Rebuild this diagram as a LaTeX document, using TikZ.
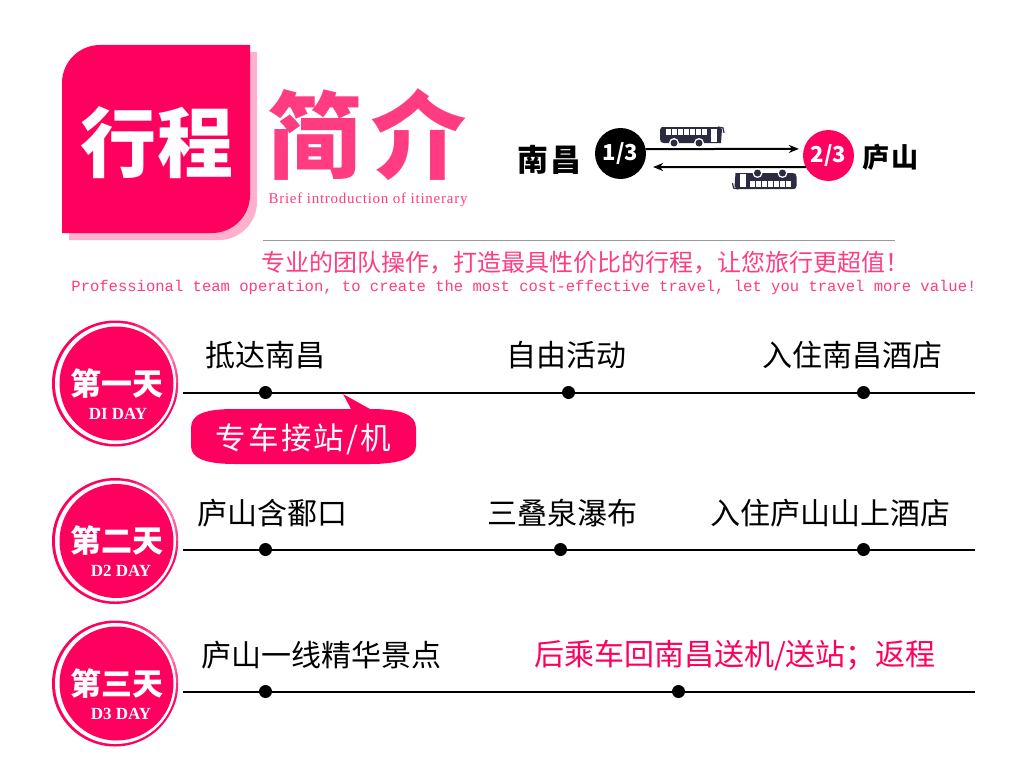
\documentclass[tikz,border=0pt]{standalone}
\usepackage{fontspec}
\usepackage{xcolor}
\usetikzlibrary{arrows.meta,positioning,calc}
\setmainfont{Liberation Serif}
\setmonofont{Liberation Mono}
\newfontfamily\cjk{Noto Sans CJK SC}
\newcommand\fsize[1]{\fontsize{#1}{#1}\selectfont}
\definecolor{hotred}{HTML}{FF005F}
\definecolor{softred}{HTML}{FF3C82}
\definecolor{palered}{HTML}{FFB0CC}
\definecolor{busdark}{HTML}{2B2B42}
\tikzset{
    plain/.style={inner sep=0pt,outer sep=0pt},
    stoplabel/.style={plain,font=\cjk\fsize{30},text=black},
    stopdot/.style={plain,circle,fill=black,minimum size=13pt},
    dayline/.style={line width=2pt,black},
    badgedisc/.style={plain,circle,fill=hotred},
    badgetitle/.style={plain,font=\cjk\bfseries\fsize{31},text=white},
    badgesub/.style={plain,font=\rmfamily\bfseries\fsize{17},text=white},
    busicon/.pic={
        \fill[busdark] (-32,-7) .. controls (-32,-10) and (-30,-10) .. (-28,-10)
            -- (26,-10) -- (30,-8) -- (29,6) -- (-28,6) .. controls (-31,6) and (-32,5) .. (-32,2) -- cycle;
        \foreach \wx in {-26,-20,...,10}
            \fill[white] (\wx,-8) rectangle ++(4.6,6);
        \fill[white] (19,-8) rectangle (25,5);
        \foreach \wx in {-18,7}{
            \fill[white] (\wx,6) circle (5);
            \fill[busdark] (\wx,6) circle (3.5);
        }
        \draw[busdark,line width=1.2pt] (26,-10) -- (31,-9) -- (32,-4);
    },
}
\begin{document}
\begin{tikzpicture}[x=1pt,y=-1pt]
    \useasboundingbox (0,0) rectangle (1024,776);
    % title block
    \fill[palered] (110,52) -- (257,52) -- (257,202) arc (0:90:38) -- (69,240) -- (69,210) -- cycle;
    \fill[hotred] (100,45) -- (250,45) -- (250,195) arc (0:90:38) -- (62,233) -- (62,83) arc (180:270:38) -- cycle;
    \node[plain,font=\cjk\bfseries\fsize{76},text=white] (titlea) at (157,143) {行\kern1pt程};
    \node[plain,font=\cjk\bfseries\fsize{95},text=softred] (titleb) at (367,135) {简\kern9pt介};
    \node[plain,font=\rmfamily\fsize{15},text=softred] (titlesub) at (368,200) {\addfontfeature{LetterSpace=5}Brief introduction of itinerary};
    % route
    \node[plain,circle,fill=black,minimum size=51pt,text=white,font=\cjk\bfseries\fsize{22}] (nanchang) at (620.5,153.5) {1/3};
    \node[plain,circle,fill=hotred,minimum size=51pt,text=white,font=\cjk\bfseries\fsize{22}] (lushan) at (828.5,155.5) {2/3};
    \node[plain,font=\cjk\bfseries\fsize{31},left=13pt of nanchang,yshift=-6pt] (nanchangname) {南\kern3pt昌};
    \node[plain,font=\cjk\bfseries\fsize{27},right=8pt of lushan,yshift=-2pt] (lushanname) {庐\kern2pt山};
    \draw[line width=2pt,-{Stealth[length=10pt,width=8pt]},shorten >=5pt] (nanchang.10) -- (lushan.165);
    \draw[line width=2pt,-{Stealth[length=10pt,width=8pt]},shorten >=11pt] (lushan.207) -- (nanchang.328);
    \pic at (692,137) {busicon};
    \pic[rotate=180] at (764.5,179) {busicon};
    % slogan
    \coordinate (ruleleft) at (263,240);
    \coordinate (ruleright) at (895,240);
    \draw[gray!80,line width=.8pt] (ruleleft) -- (ruleright);
    \node[plain,font=\cjk\fsize{24},text=softred] (slogan) at (585,263) {专业的团队操作，打造最具性价比的行程，让您旅行更超值！};
    \node[plain,font=\ttfamily\fsize{15.55},text=softred] (sloganen) at (524,287) {Professional team operation, to create the most cost-effective travel, let you travel more value!};
    % day badges
    \foreach \bname/\by/\btext/\bsub/\bsubx in {one/383.5/第一天/DI DAY/118,two/541/第二天/D2 DAY/121,three/683.5/第三天/D3 DAY/121}{
        \node[badgedisc,minimum size=126pt] (badge\bname) at (115,\by) {};
        \foreach \ang in {80,70,...,-10}{
            \pgfmathsetmacro\fadeval{75-abs(\ang-35)*1.5}
            \draw[palered!\fadeval!hotred,line width=2.5pt] ($(badge\bname)+(-\ang:62)$) arc[start angle=-\ang,delta angle=10,radius=62];
        }
        \node[plain,circle,fill=white,minimum size=121pt] (ring\bname) at (115.5,\by) {};
        \node[badgedisc,minimum size=114pt] (disc\bname) at (116.5,\by) {};
        \node[badgetitle] (title\bname) at (116.5,\by) {\btext};
        \node[badgesub] (sub\bname) at (\bsubx,\by+30) {\bsub};
    }
    % day one
    \coordinate (onestart) at (183,393);
    \coordinate (oneend) at (975,393);
    \draw[dayline] (onestart) -- (oneend);
    \node[stopdot] (onea) at (265.5,392.5) {};
    \node[stopdot] (oneb) at (568.5,392.5) {};
    \node[stopdot] (onec) at (863.5,392.5) {};
    \node[stoplabel] (onealabel) at (265,355) {抵达南昌};
    \node[stoplabel] (oneblabel) at (566,355) {自由活动};
    \node[stoplabel] (oneclabel) at (852,355) {入住南昌酒店};
    \fill[hotred] (343,394) -- (370,409) .. controls (400,409) and (416,414) .. (416,428) -- (416,446)
        .. controls (416,458) and (400,464) .. (370,464) -- (235,464) .. controls (205,464) and (191,458) .. (191,446)
        -- (191,428) .. controls (191,414) and (205,409) .. (235,409) -- (351,409) -- cycle;
    \node[plain,font=\cjk\fsize{30.5},text=white] (pickup) at (303.5,439) {\addfontfeature{LetterSpace=7}专车接站/机};
    % day two
    \coordinate (twostart) at (183,550);
    \coordinate (twoend) at (975,550);
    \draw[dayline] (twostart) -- (twoend);
    \node[stopdot] (twoa) at (265.5,549.5) {};
    \node[stopdot] (twob) at (560.5,549.5) {};
    \node[stopdot] (twoc) at (863.5,549.5) {};
    \node[stoplabel] (twoalabel) at (272.5,513) {庐山含鄱口};
    \node[stoplabel] (twoblabel) at (562,513) {三叠泉瀑布};
    \node[stoplabel] (twoclabel) at (830,513) {入住庐山山上酒店};
    % day three
    \coordinate (threestart) at (183,692);
    \coordinate (threeend) at (975,692);
    \draw[dayline] (threestart) -- (threeend);
    \node[stopdot] (threea) at (265.5,691.5) {};
    \node[stopdot] (threeb) at (678.5,691.5) {};
    \node[stoplabel] (threealabel) at (321.5,655) {庐山一线精华景点};
    \node[stoplabel,text=hotred] (threeblabel) at (735,655) {后乘车回南昌送机/送站；返程};
\end{tikzpicture}
\end{document}
